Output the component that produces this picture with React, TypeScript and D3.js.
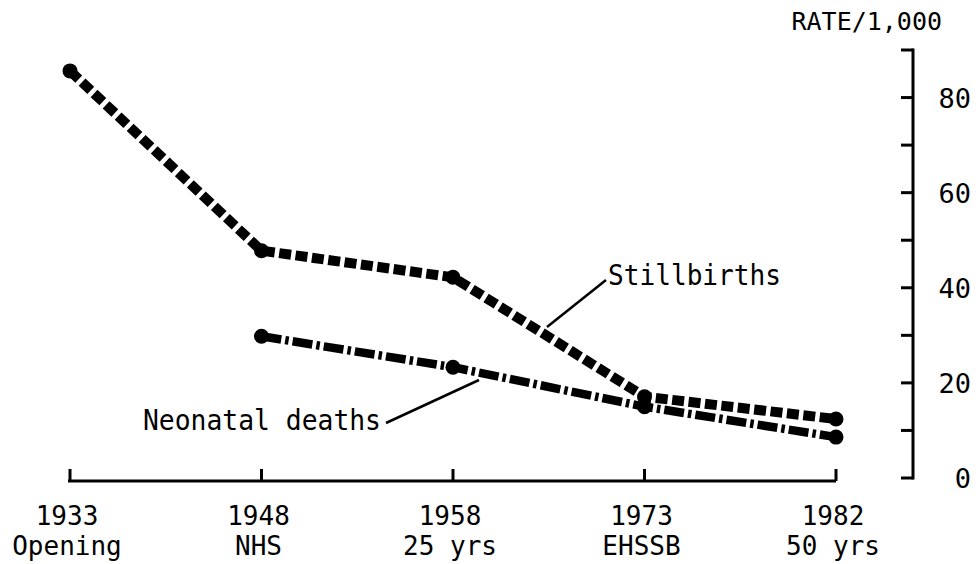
import React from 'react';
import * as d3 from 'd3';

// ─── data ────────────────────────────────────────────────
const years = ['1933', '1948', '1958', '1973', '1982'];
const events = ['Opening', 'NHS', '25 yrs', 'EHSSB', '50 yrs'];
const stillbirths: (number | null)[] = [85.6, 47.8, 42.2, 17.1, 12.4];
const neonatal: (number | null)[] = [null, 29.8, 23.3, 15.0, 8.6];
const yTicks = [0, 10, 20, 30, 40, 50, 60, 70, 80, 90];
const yLabels = [0, 20, 40, 60, 80];

const W = 978;
const H = 564;
const FONT = '"DejaVu Sans Mono", "Liberation Mono", monospace';

const x = d3.scalePoint<string>().domain(years).range([70, 836]);
const y = d3.scaleLinear().domain([0, 90]).range([478, 50]);

const axisX = 913;
const baseY = 481;

type Pt = { year: string; v: number };
const toPts = (vals: (number | null)[]): Pt[] =>
  vals
    .map((v, i) => (v == null ? null : { year: years[i], v }))
    .filter((d): d is Pt => d !== null);

const line = d3
  .line<Pt>()
  .x(d => x(d.year)!)
  .y(d => y(d.v));

const Series: React.FC<{ vals: (number | null)[]; dash: string; sw: number }> = ({ vals, dash, sw }) => {
  const pts = toPts(vals);
  return (
    <g>
      <path d={line(pts) ?? ''} fill="none" stroke="#000" strokeWidth={sw} strokeDasharray={dash} strokeLinecap="butt" strokeLinejoin="round" />
      {pts.map(p => (
        <circle key={p.year} cx={x(p.year)} cy={y(p.v)} r={7.5} fill="#000" />
      ))}
    </g>
  );
};

export default function App() {
  return (
    <svg width={W} height={H} style={{ display: 'block', position: 'absolute', left: 0, top: 0, background: '#fff' }} fontFamily={FONT}>
      <rect width={W} height={H} fill="#fff" />

      {/* bottom axis */}
      <line x1={x(years[0])! - 2} x2={x(years[years.length - 1])!} y1={baseY} y2={baseY} stroke="#000" strokeWidth={3} />
      {years.map((yr, i) => (
        <g key={yr}>
          <line x1={x(yr)} x2={x(yr)} y1={baseY} y2={baseY - 12} stroke="#000" strokeWidth={3} />
          <text x={x(yr)! - 3} y={525} textAnchor="middle" fontSize={26}>{yr}</text>
          <text x={x(yr)! - 3} y={555} textAnchor="middle" fontSize={26}>{events[i]}</text>
        </g>
      ))}

      {/* right axis */}
      <line x1={axisX} x2={axisX} y1={y(90) - 1.5} y2={y(0) + 1.5} stroke="#000" strokeWidth={3} />
      {yTicks.map(t => (
        <line key={t} x1={axisX} x2={axisX - 12} y1={y(t)} y2={y(t)} stroke="#000" strokeWidth={3} />
      ))}
      {yLabels.map(t => (
        <text key={t} x={971} y={y(t) + 10} textAnchor="end" fontSize={27}>{t}</text>
      ))}
      <text x={942} y={30} textAnchor="end" fontSize={25}>RATE/1,000</text>

      {/* series */}
      <Series vals={stillbirths} dash="12,4.5" sw={10} />
      <Series vals={neonatal} dash="20,4,3.5,4" sw={8.5} />

      {/* annotations */}
      <line x1={547} y1={327} x2={606} y2={280} stroke="#000" strokeWidth={2.5} />
      <text x={608} y={285} fontSize={28} textLength={173} lengthAdjust="spacingAndGlyphs">Stillbirths</text>
      <line x1={386} y1={423} x2={479} y2={380} stroke="#000" strokeWidth={2.5} />
      <text x={143} y={430} fontSize={28} textLength={238} lengthAdjust="spacingAndGlyphs">Neonatal deaths</text>
    </svg>
  );
}
